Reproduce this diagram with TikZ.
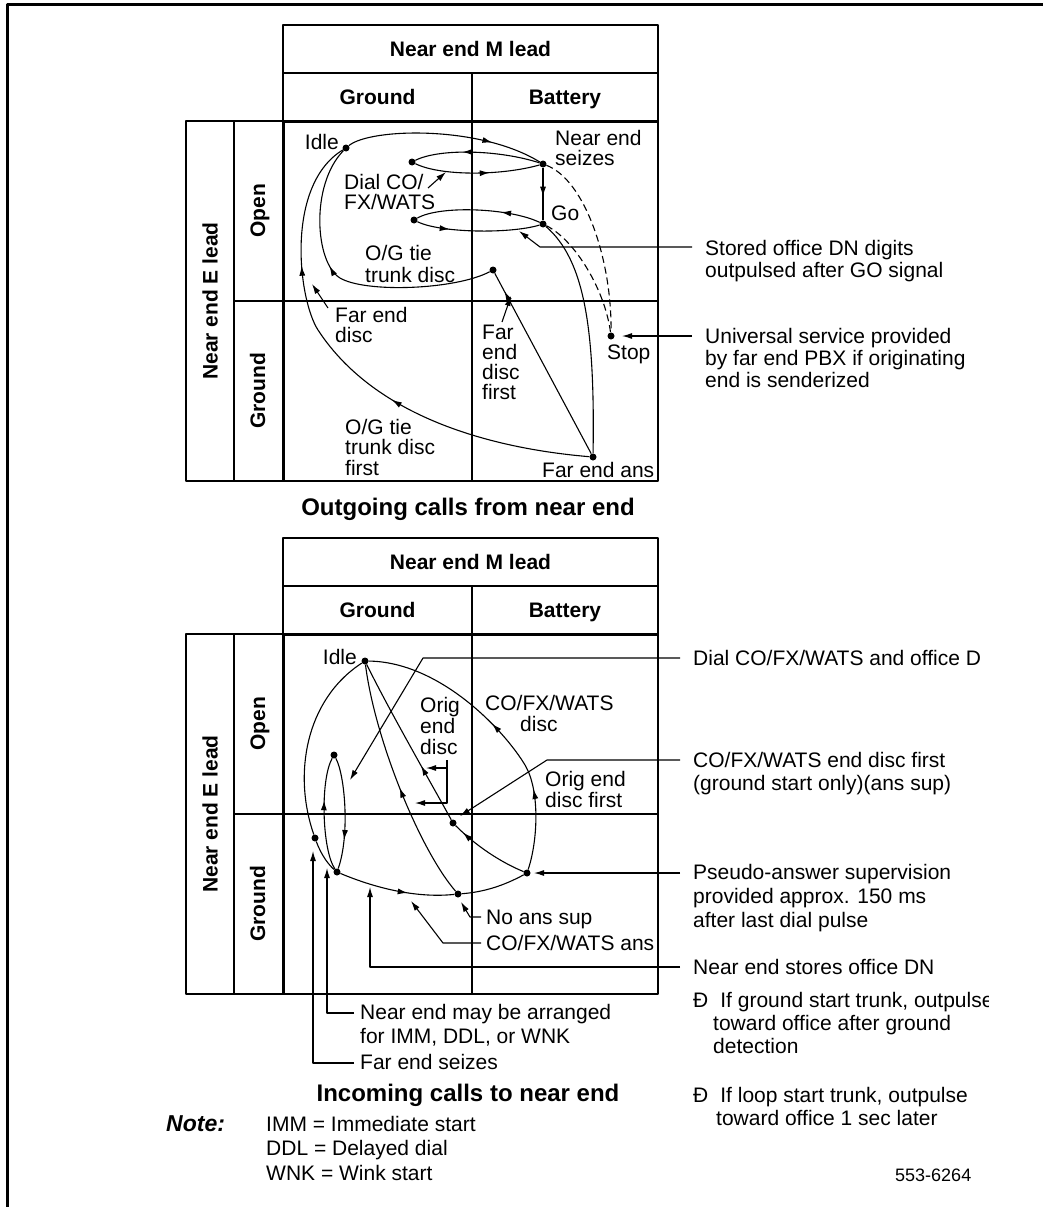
\documentclass[tikz,border=0pt]{standalone}
\usepackage{fontspec}
\setmainfont{Liberation Sans}
\usetikzlibrary{arrows.meta,decorations.markings}
\newcommand\labfont{\fontsize{21}{20}\selectfont}
\newcommand\sidefont{\fontsize{21}{23.5}\selectfont}
\newcommand\headfont{\fontsize{21}{24}\selectfont\bfseries}
\newcommand\titlefont{\fontsize{24}{28}\selectfont\bfseries}
\tikzset{
  grid/.style={line width=1.2pt},
  heavy/.style={line width=3pt},
  curve/.style={line width=1.1pt},
  dashcurve/.style={line width=1.1pt, dash pattern=on 7pt off 4pt},
  ptr/.style={line width=1.1pt, -{Latex[length=10pt,width=6pt]}},
  arr/.style={postaction={decorate,decoration={markings,
      mark=at position #1 with {\arrow{Latex[length=10pt,width=6pt]}}}}},
  dot/.style={circle, fill, inner sep=0pt, minimum size=7pt},
  lbl/.style={inner sep=0pt, anchor=base west, align=left, font=\labfont},
  side/.style={inner sep=0pt, anchor=base west, align=left, font=\sidefont},
  head/.style={inner sep=0pt, anchor=base, font=\headfont},
  vhead/.style={inner sep=0pt, anchor=base, font=\headfont, rotate=90},
}
\begin{document}
\begin{tikzpicture}[x=1pt,y=-1pt,line join=round]
\useasboundingbox (0,0) rectangle (1042,1207);
% frame
\draw[heavy] (7,1215) -- (7,5) -- (1050,5);

% ================= TOP DIAGRAM =================
\draw[grid] (283,25) rectangle (658,121);
\draw[grid] (283,73) -- (658,73);
\draw[grid] (472,73) -- (472,481);
\draw[grid] (186,121) rectangle (658,481);
\draw[grid] (234,121) -- (234,481);
\draw[grid] (234,301) -- (658,301);
\draw[heavy] (658,121) -- (283,121) -- (283,481);

\node[head] (tmlead) at (470.5,56.5) {Near end M lead};
\node[head] (tgnd) at (377.5,104.5) {Ground};
\node[head] (tbat) at (565,104.5) {Battery};
\node[inner sep=0pt, font=\headfont, rotate=90] (telead) at (210,301) {Near end E lead};
\node[vhead] (topen) at (265,211) {Open};
\node[vhead] (tgrd) at (265,391) {Ground};

% states
\node[dot] (idle) at (346,148) {};
\node[dot] (seize) at (543,164) {};
\node[dot] (go) at (543,224) {};
\node[dot] (la) at (412,162) {};
\node[dot] (lb) at (414,220) {};
\node[dot] (tdisc) at (493,270) {};
\node[dot] (stop) at (611,336) {};
\node[dot] (fans) at (593,457) {};

% transitions
\draw[curve, arr=0.74] (idle) .. controls (370,128) and (480,125) .. (seize);
\draw[curve, arr=0.62] (seize) .. controls (500,150) and (440,148) .. (la);
\draw[curve, arr=0.6] (la) .. controls (440,176) and (500,176) .. (seize);
\draw[curve, arr=0.32] (go) .. controls (510,208) and (440,205) .. (lb);
\draw[curve, arr=0.27] (lb) .. controls (440,233) and (510,234) .. (go);
\draw[curve, arr=0.55] (seize) -- (go);
\draw[dashcurve] (seize) .. controls (585,180) and (612,260) .. (stop);
\draw[dashcurve] (go) .. controls (575,240) and (605,290) .. (stop);
\draw[curve] (go) .. controls (585,260) and (595,330) .. (fans);
\draw[curve, arr=0.9] (fans) -- (tdisc);
\draw[curve, arr=0.58] (tdisc) .. controls (455,290) and (365,293) .. (340,278)
      .. controls (315,263) and (310,185) .. (idle);
\draw[curve, arr=0.41, arr=0.745] (fans) .. controls (510,450) and (380,425) .. (318,330)
      .. controls (298,299) and (285,185) .. (idle);

% labels (base = baseline of the last line)
\node[lbl, anchor=base east] (tidle) at (339,149) {Idle};
\node[lbl] (tseize) at (555,165) {Near end\\seizes};
\node[lbl] (tgo) at (551,220) {Go};
\node[lbl] (tdial) at (344,209) {Dial CO/\\FX/WATS};
\node[lbl, font=\fontsize{21}{22}\selectfont] (togtd) at (365,282) {O/G tie\\trunk disc};
\node[lbl] (tfed) at (335,342) {Far end\\disc};
\node[lbl, font=\fontsize{21}{20.5}\selectfont] (togf) at (345,475) {O/G tie\\trunk disc\\first};
\node[lbl, font=\fontsize{21}{19.7}\selectfont] (tfedf) at (482,399) {Far\\end\\disc\\first};
\node[lbl] (tstop) at (607,359) {Stop};
\node[lbl] (tfans) at (542,477) {Far end ans};

% pointers
\coordinate (pdial0) at (428,188);
\coordinate (pdial1) at (446,172);
\draw[ptr] (pdial0) -- (pdial1);
\coordinate (pfed0) at (328,308);
\coordinate (pfed1) at (312,284);
\draw[ptr] (pfed0) -- (pfed1);
\coordinate (pfedf0) at (502,322);
\coordinate (pfedf1) at (511,296);
\draw[ptr] (pfedf0) -- (pfedf1);
\coordinate (pst0) at (692,247);
\coordinate (pst1) at (540,247);
\coordinate (pst2) at (519,231);
\draw[ptr] (pst0) -- (pst1) -- (pst2);
\coordinate (pun0) at (692,336);
\coordinate (pun1) at (622,336);
\draw[ptr] (pun0) -- (pun1);

\node[side, font=\fontsize{21}{22}\selectfont] (tstored) at (705,277) {Stored office DN digits\\outpulsed after GO signal};
\node[side, font=\fontsize{21}{22}\selectfont] (tuniv) at (705,387) {Universal service provided\\by far end PBX if originating\\end is senderized};

\node[inner sep=0pt, anchor=base, font=\titlefont] (tout) at (468,515) {Outgoing calls from near end};

% ================= BOTTOM DIAGRAM =================
\draw[grid] (283,538) rectangle (658,634);
\draw[grid] (283,586) -- (658,586);
\draw[grid] (472,586) -- (472,994);
\draw[grid] (186,634) rectangle (658,994);
\draw[grid] (234,634) -- (234,994);
\draw[grid] (234,814) -- (658,814);
\draw[heavy] (658,634) -- (283,634) -- (283,994);

\node[head] (bmlead) at (470.5,569.5) {Near end M lead};
\node[head] (bgnd) at (377.5,617.5) {Ground};
\node[head] (bbat) at (565,617.5) {Battery};
\node[inner sep=0pt, font=\headfont, rotate=90] (belead) at (210,814) {Near end E lead};
\node[vhead] (bopen) at (265,724) {Open};
\node[vhead] (bgrd) at (265,904) {Ground};

\node[dot] (idle2) at (365,661) {};
\node[dot] (A) at (334,755) {};
\node[dot] (B) at (315,838) {};
\node[dot] (C) at (337,872) {};
\node[dot] (D) at (453,823) {};
\node[dot] (E) at (458,894) {};
\node[dot] (F) at (527,873) {};

\draw[curve] (idle2) .. controls (305,700) and (293,775) .. (B);
\draw[curve] (B) .. controls (322,857) and (330,866) .. (C);
\draw[curve, arr=0.62] (C) .. controls (322,850) and (320,780) .. (A);
\draw[curve, arr=0.74] (A) .. controls (345,775) and (350,835) .. (C);
\draw[curve, arr=0.6] (C) .. controls (380,890) and (420,898) .. (E);
\draw[curve] (E) .. controls (485,892) and (505,885) .. (F);
\draw[curve, arr=0.48] (E) .. controls (420,850) and (375,740) .. (idle2);
\draw[curve, arr=0.35] (D) .. controls (435,790) and (390,712) .. (idle2);
\draw[curve, arr=0.88] (F) .. controls (500,862) and (475,845) .. (D);
\draw[curve, arr=0.27, arr=0.53] (F) .. controls (538,840) and (540,790) .. (525,765)
      .. controls (504,730) and (440,662) .. (idle2);

\node[lbl, anchor=base east] (bidle) at (357,664) {Idle};
\node[lbl, font=\fontsize{21}{21}\selectfont] (borig) at (420,754) {Orig\\end\\disc};
\node[lbl, font=\fontsize{21}{21}\selectfont] (bcodisc) at (485,731) {CO/FX/WATS\\\hspace*{35pt}disc};
\node[lbl, font=\fontsize{21}{21}\selectfont] (boef) at (545,807) {Orig end\\disc first};
\node[lbl] (bnoans) at (486,924) {No ans sup};
\node[lbl] (bcoans) at (486,950) {CO/FX/WATS ans};

% bracket
\coordinate (br0) at (447,760);
\coordinate (br1) at (447,803);
\coordinate (br2) at (415,803);
\coordinate (br3) at (447,768);
\coordinate (br4) at (426,768);
\draw[ptr] (br0) -- (br1) -- (br2);
\draw[ptr] (br3) -- (br4);

% pointers
\coordinate (pdl0) at (680,658);
\coordinate (pdl1) at (423,658);
\coordinate (pdl2) at (350,780);
\draw[ptr] (pdl0) -- (pdl1) -- (pdl2);
\coordinate (ped0) at (680,760);
\coordinate (ped1) at (547,760);
\coordinate (ped2) at (460,816);
\draw[ptr] (ped0) -- (ped1) -- (ped2);
\coordinate (pps0) at (680,873);
\coordinate (pps1) at (534,873);
\draw[ptr] (pps0) -- (pps1);
\coordinate (pns0) at (680,967);
\coordinate (pns1) at (370,967);
\coordinate (pns2) at (370,887);
\draw[ptr] (pns0) -- (pns1) -- (pns2);
\coordinate (pca0) at (481,943);
\coordinate (pca1) at (443,943);
\coordinate (pca2) at (411,901);
\draw[ptr] (pca0) -- (pca1) -- (pca2);
\coordinate (pna0) at (481,917);
\coordinate (pna1) at (470,917);
\coordinate (pna2) at (461,902);
\draw[ptr] (pna0) -- (pna1) -- (pna2);
\coordinate (pnm0) at (354,1013);
\coordinate (pnm1) at (327,1013);
\coordinate (pnm2) at (327,868);
\draw[ptr] (pnm0) -- (pnm1) -- (pnm2);
\coordinate (pfs0) at (354,1063);
\coordinate (pfs1) at (313,1063);
\coordinate (pfs2) at (313,851);
\draw[ptr] (pfs0) -- (pfs1) -- (pfs2);

\node[side, font=\fontsize{21}{24}\selectfont] (bnear) at (360,1043) {Near end may be arranged\\for IMM, DDL, or WNK};
\node[side] (bfes) at (360,1069) {Far end seizes};

\begin{scope}
\clip (0,0) rectangle (988,1207);
\node[side] (bdial) at (693,665) {Dial CO/FX/WATS and office D};
\node[side, font=\fontsize{21}{23}\selectfont] (bendd) at (693,790) {CO/FX/WATS end disc first\\(ground start only)(ans sup)};
\node[side, font=\fontsize{21}{24}\selectfont] (bpseudo) at (693,927) {Pseudo-answer supervision\\provided approx. 150 ms\\after last dial pulse};
\node[side] (bstores) at (693,974) {Near end stores office DN};
\node[side, font=\fontsize{21}{23}\selectfont] (bgs) at (693,1053) {Ð\hspace{12pt}If ground start trunk, outpulse\\\hspace*{20pt}toward office after ground\\\hspace*{20pt}detection};
\node[side, font=\fontsize{21}{23}\selectfont] (bls) at (693,1125) {Ð\hspace{12pt}If loop start trunk, outpulse\\\hspace*{23pt}toward office 1 sec later};
\end{scope}

\node[inner sep=0pt, anchor=base, font=\titlefont] (tin) at (468,1101) {Incoming calls to near end};
\node[inner sep=0pt, anchor=base west, font=\fontsize{23}{24}\selectfont\bfseries\itshape] (note) at (166,1131) {Note:};
\node[side, font=\fontsize{21}{24.5}\selectfont] (abbr) at (266,1180) {IMM = Immediate start\\DDL = Delayed dial\\WNK = Wink start};
\node[inner sep=0pt, anchor=base west, font=\fontsize{18}{20}\selectfont] (fig) at (895,1181) {553-6264};
\end{tikzpicture}
\end{document}
